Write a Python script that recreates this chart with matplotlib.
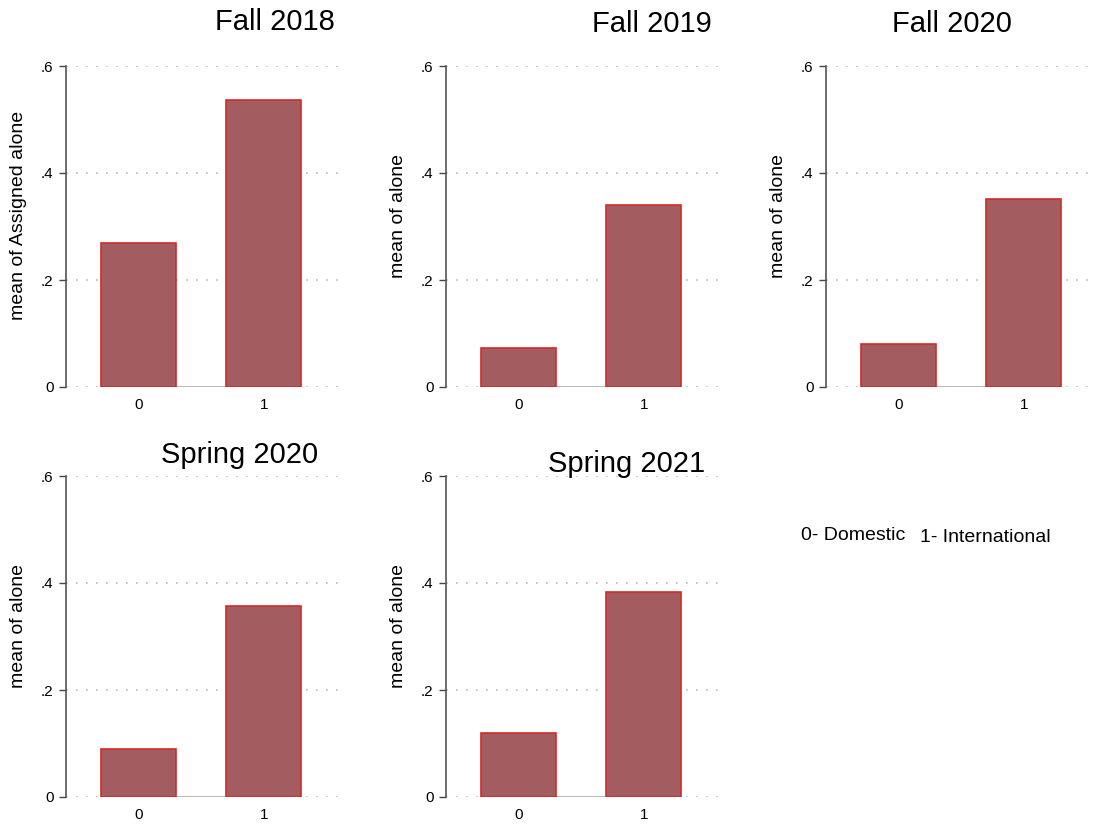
import matplotlib
matplotlib.use("Agg")
import matplotlib.pyplot as plt

plt.rcParams['font.family'] = ['Liberation Sans', 'DejaVu Sans']

titles = ["Fall 2018", "Fall 2019", "Fall 2020", "Spring 2020", "Spring 2021"]
ylabels = ["mean of Assigned alone", "mean of alone", "mean of alone",
           "mean of alone", "mean of alone"]
groups = [0, 1]
means = [
    [0.269, 0.536],
    [0.073, 0.340],
    [0.080, 0.351],
    [0.090, 0.357],
    [0.120, 0.383],
]
yticks = [0, 0.2, 0.4, 0.6]
yticklabels = ["0", ".2", ".4", ".6"]

W, H = 1095, 826
fig = plt.figure(figsize=(W / 100, H / 100), dpi=100)

# axes placement in pixels: (left, top of 0.6, title x, title y)
panels = [
    (66, 66, 275, 22),
    (446, 66, 652, 24),
    (826, 66, 952, 24),
    (66, 476, 240, 455),
    (446, 476, 627, 464),
]
aw, ah = 274, 321

fill = '#a35c5f'
edge = '#d42a2a'

for i, (px, py, tx, ty) in enumerate(panels):
    ax = fig.add_axes([px / W, 1 - (py + ah) / H, aw / W, ah / H])
    ax.plot(groups, [0, 0], color='#bbbbbb', lw=1.5, zorder=1)
    ax.bar(groups, means[i], width=0.6, color=fill, edgecolor=edge,
           linewidth=1.2, zorder=2)
    ax.set_xlim(-0.58, 1.61)
    ax.set_ylim(0, 0.6)
    for y in yticks:
        ax.axhline(y, color='#bbbbbb', lw=1.2, ls=(0, (1, 5)), zorder=0)
    ax.set_yticks(yticks)
    ax.set_yticklabels(yticklabels, fontsize=11)
    ax.set_xticks(groups)
    ax.set_xticklabels([str(g) for g in groups], fontsize=11)
    ax.tick_params(axis='x', length=0, pad=8)
    ax.tick_params(axis='y', length=5, width=1, color='#444444', pad=4)
    for s in ['top', 'right', 'bottom']:
        ax.spines[s].set_visible(False)
    ax.spines['left'].set_color('#555555')
    ax.spines['left'].set_linewidth(1.2)
    ax.set_ylabel(ylabels[i], fontsize=14)
    ax.yaxis.set_label_coords(-0.142, 0.533)
    fig.text(tx / W, 1 - ty / H, titles[i], fontsize=21,
             ha='center', va='center')

fig.text(801 / W, 1 - 536 / H, "0- Domestic", fontsize=14, va='center')
fig.text(920 / W, 1 - 538 / H, "1- International", fontsize=14, va='center')

fig.savefig("out.png", dpi=100)
